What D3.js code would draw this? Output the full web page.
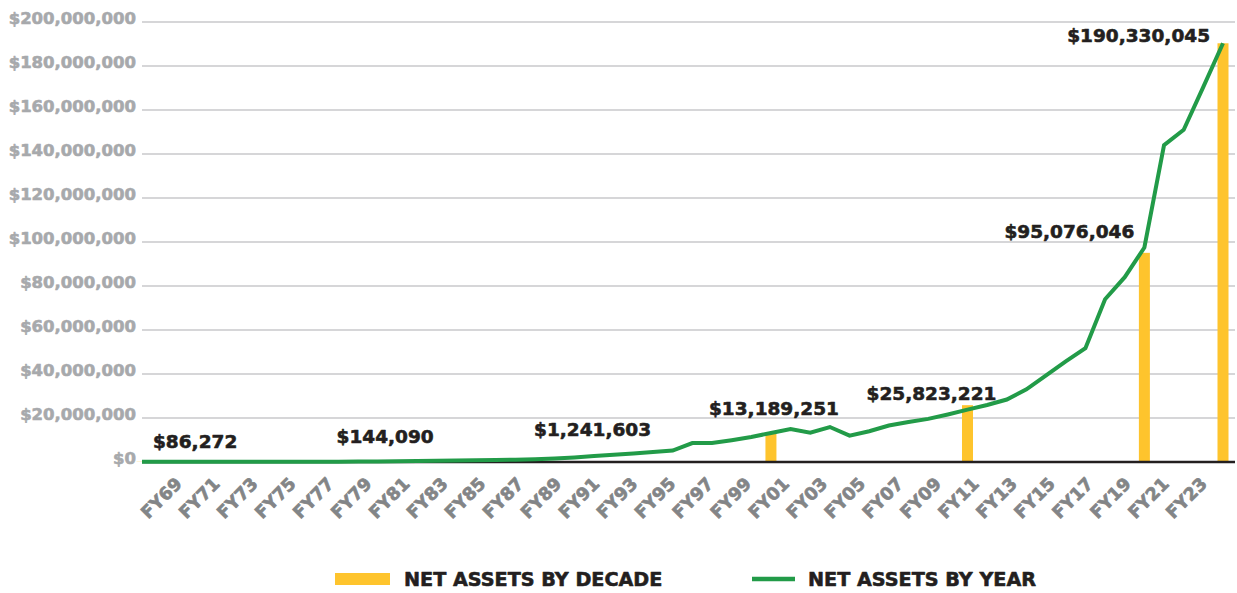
<!DOCTYPE html>
<html>
<head>
<meta charset="utf-8">
<script src="https://cdn.jsdelivr.net/npm/d3@7"></script>
<style>
  html, body { margin: 0; padding: 0; background: #fff; }
  svg { display: block; font-family: "DejaVu Sans", sans-serif; font-weight: bold; }
  .heavy { paint-order: stroke; stroke-linejoin: round; }
</style>
</head>
<body>
<svg id="chart" width="1237" height="593"></svg>
<script>
const width = 1237, height = 593;
const svg = d3.select("#chart");

// fiscal years, one point each
const years = [
  "FY69","FY70","FY71","FY72","FY73","FY74","FY75","FY76","FY77","FY78",
  "FY79","FY80","FY81","FY82","FY83","FY84","FY85","FY86","FY87","FY88",
  "FY89","FY90","FY91","FY92","FY93","FY94","FY95","FY96","FY97","FY98",
  "FY99","FY00","FY01","FY02","FY03","FY04","FY05","FY06","FY07","FY08",
  "FY09","FY10","FY11","FY12","FY13","FY14","FY15","FY16","FY17","FY18",
  "FY19","FY20","FY21","FY22","FY23","FY24"
];

// net assets by year
const netAssetsByYear = [
  86272, 90000, 100000, 100000, 110000, 110000, 120000, 120000, 130000, 140000,
  144090, 200000, 280000, 350000, 450000, 550000, 650000, 780000, 900000, 1050000,
  1241603, 1600000, 2100000, 2700000, 3300000, 3900000, 4500000, 5200000, 8600000, 8600000,
  9900000, 11400000, 13189251, 15000000, 13300000, 15900000, 12000000, 14000000, 16600000, 18200000,
  19600000, 21600000, 23800000, 25900000, 28400000, 33000000, 39400000, 45700000, 51700000, 74000000,
  84000000, 97500000, 144000000, 151000000, 170500000, 190330045
];

// net assets by decade (bars + labels)
const decadeYears  = ["FY69", "FY79", "FY89", "FY01", "FY11", "FY20", "FY24"];
const decadeValues = [86272, 144090, 1241603, 13189251, 25823221, 95076046, 190330045];

const yTicks = [0, 20e6, 40e6, 60e6, 80e6, 100e6, 120e6, 140e6, 160e6, 180e6, 200e6];
const xTickLabels = [
  "FY69","FY71","FY73","FY75","FY77","FY79","FY81","FY83","FY85","FY87",
  "FY89","FY91","FY93","FY95","FY97","FY99","FY01","FY03","FY05","FY07",
  "FY09","FY11","FY13","FY15","FY17","FY19","FY21","FY23"
];

// label placement for the decade annotations (anchor, dx, dy)
const labelLayout = [
  ["start", 11, -14], ["start", -2, -19], ["start", -1, -23], ["middle", 3, -18],
  ["end", 29, -5], ["end", -10, -15], ["end", -13, -1]
];

const plotLeft = 142, plotRight = 1235;

const x = d3.scalePoint().domain(years).range([142, 1223]);
const y = d3.scaleLinear().domain([0, 200e6]).range([462, 22]);
// tick labels are laid out on their own band
const xLab = d3.scalePoint().domain(xTickLabels).range([183, 1208]);

const fmt = v => "$" + d3.format(",")(v);

// gridlines
svg.append("g")
  .selectAll("line")
  .data(yTicks.filter(d => d > 0))
  .join("line")
    .attr("x1", plotLeft).attr("x2", plotRight)
    .attr("y1", d => y(d)).attr("y2", d => y(d))
    .attr("stroke", "#c8c9cb")
    .attr("stroke-width", 1.5);

// y axis labels
const yAxis = svg.append("g")
  .attr("transform", `translate(136,0)`)
  .call(d3.axisLeft(y).tickValues(yTicks).tickFormat(fmt).tickSize(0).tickPadding(0));
yAxis.select(".domain").remove();
yAxis.selectAll("text")
  .attr("class", "heavy")
  .attr("fill", "#a7a9ac")
  .attr("stroke", "#a7a9ac")
  .attr("stroke-width", 0.6)
  .attr("font-size", "16.5px")
  .attr("font-family", "DejaVu Sans")
  .attr("font-weight", "bold")
  .attr("dy", "0em")
  .attr("y", 1);

// bars (decade)
svg.append("g")
  .selectAll("rect")
  .data(decadeYears.map((k, i) => ({ k, v: decadeValues[i] })))
  .join("rect")
    .attr("x", d => x(d.k) - 5.5)
    .attr("width", 11)
    .attr("y", d => y(d.v))
    .attr("height", d => y(0) - y(d.v))
    .attr("fill", "#fec42d");

// zero line
svg.append("line")
  .attr("x1", plotLeft).attr("x2", plotRight)
  .attr("y1", y(0)).attr("y2", y(0))
  .attr("stroke", "#231f20")
  .attr("stroke-width", 2.5);

// line (yearly)
const line = d3.line()
  .x((d, i) => x(years[i]))
  .y(d => y(d));

svg.append("path")
  .datum(netAssetsByYear)
  .attr("d", line)
  .attr("fill", "none")
  .attr("stroke", "#229b48")
  .attr("stroke-width", 4)
  .attr("stroke-linejoin", "miter");

// x labels
svg.append("g")
  .selectAll("text")
  .data(xTickLabels)
  .join("text")
    .attr("class", "heavy")
    .attr("transform", d => `translate(${xLab(d)},485) rotate(-45)`)
    .attr("text-anchor", "end")
    .attr("fill", "#838587")
    .attr("stroke", "#838587")
    .attr("stroke-width", 0.7)
    .attr("font-size", "17.5px")
    .text(d => d);

// decade annotations
svg.append("g")
  .selectAll("text")
  .data(decadeYears.map((k, i) => ({ k, v: decadeValues[i], l: labelLayout[i] })))
  .join("text")
    .attr("class", "heavy")
    .attr("x", d => x(d.k) + d.l[1])
    .attr("y", d => y(d.v) + d.l[2])
    .attr("text-anchor", d => d.l[0])
    .attr("fill", "#231f20")
    .attr("stroke", "#231f20")
    .attr("stroke-width", 0.6)
    .attr("font-size", "18.5px")
    .text(d => fmt(d.v));

// legend
const legend = svg.append("g").attr("transform", "translate(0,579)");
legend.append("rect")
  .attr("x", 335).attr("y", -6).attr("width", 55).attr("height", 12)
  .attr("fill", "#fec42d");
legend.append("text")
  .attr("class", "heavy")
  .attr("x", 404).attr("y", 7)
  .attr("fill", "#231f20").attr("stroke", "#231f20").attr("stroke-width", 0.6)
  .attr("font-size", "19.2px")
  .text("NET ASSETS BY DECADE");
legend.append("line")
  .attr("x1", 752).attr("x2", 795).attr("y1", 0).attr("y2", 0)
  .attr("stroke", "#229b48").attr("stroke-width", 4.5);
legend.append("text")
  .attr("class", "heavy")
  .attr("x", 808).attr("y", 7)
  .attr("fill", "#231f20").attr("stroke", "#231f20").attr("stroke-width", 0.6)
  .attr("font-size", "19.2px")
  .text("NET ASSETS BY YEAR");
</script>
</body>
</html>
